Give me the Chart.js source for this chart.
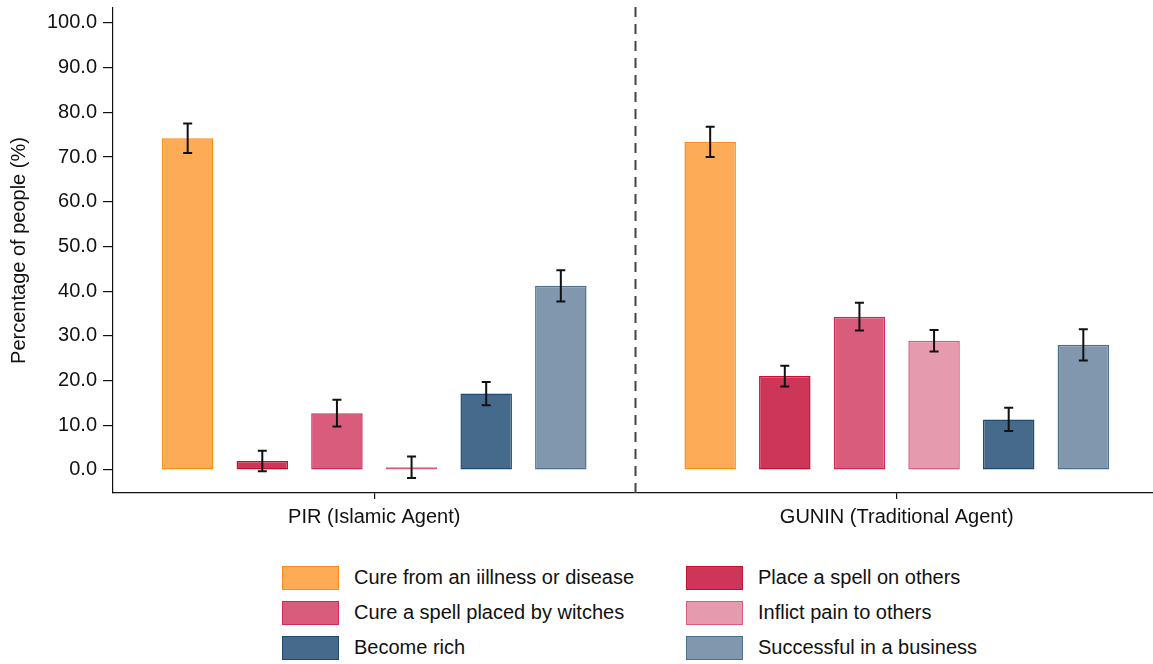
<!DOCTYPE html>
<html>
<head>
<meta charset="utf-8">
<script src="https://cdn.jsdelivr.net/npm/chart.js@4"></script>
<style>
    body { margin: 0; background: #fff; overflow: hidden; font-family: "Liberation Sans", Arial, sans-serif; }
    #wrap { position: relative; width: 1153px; height: 664px; overflow: hidden; }
    #chart { position: absolute; left: 0; top: 0; }
    #legend { position: absolute; left: 282px; top: 565px; display: grid; grid-template-columns: 404px 320px; row-gap: 10px; }
    .item { display: flex; align-items: center; height: 25px; font-size: 20px; color: #111; white-space: nowrap; }
    .box { width: 55px; height: 22px; border: 1.5px solid; margin-right: 15px; flex: none; }
</style>
</head>
<body>
<div id="wrap">
    <canvas id="chart" width="1158" height="540"></canvas>
    <div id="legend"></div>
</div>
<script>
// Agent groups on the x axis
const categories = ['PIR (Islamic Agent)', 'GUNIN (Traditional Agent)'];

// What people believe each agent can do
const outcomes = [
    'Cure from an iillness or disease',
    'Place a spell on others',
    'Cure a spell placed by witches',
    'Inflict pain to others',
    'Become rich',
    'Successful in a business'
];

// Percentages and error margins, one entry per outcome
const pirValues = [74.2, 2.0, 12.7, 0.6, 17.1, 41.2];
const pirErrors = [3.3, 2.3, 3.0, 2.4, 2.6, 3.5];
const guninValues = [73.4, 21.0, 34.3, 28.9, 11.3, 28.0];
const guninErrors = [3.4, 2.3, 3.1, 2.4, 2.6, 3.5];

const yTicks = [0, 10, 20, 30, 40, 50, 60, 70, 80, 90, 100];

const fills = ['#FEAB58', '#CD3659', '#D95C7D', '#E69AAE', '#466A8B', '#8197AE'];
const borders = ['#FF8C17', '#C8102E', '#D12A55', '#DC5A7C', '#1F4A72', '#4C7090'];

const errors = [pirErrors, guninErrors];
const fontFamily = '"Liberation Sans", Arial, sans-serif';

const datasets = outcomes.map((label, i) => ({
    label: label,
    data: [pirValues[i], guninValues[i]],
    backgroundColor: fills[i],
    borderColor: borders[i],
    borderWidth: 1.5,
    borderSkipped: false,
    categoryPercentage: 0.857,
    barPercentage: 0.69
}));

// Error bars on top of each bar
const errorBars = {
    id: 'errorBars',
    afterDatasetsDraw(chart) {
        const ctx = chart.ctx;
        const y = chart.scales.y;
        ctx.save();
        ctx.strokeStyle = '#111';
        ctx.lineWidth = 2;
        chart.data.datasets.forEach((ds, i) => {
            const meta = chart.getDatasetMeta(i);
            meta.data.forEach((bar, j) => {
                const v = ds.data[j];
                const e = errors[j][i];
                const top = y.getPixelForValue(v + e);
                const bottom = y.getPixelForValue(v - e);
                ctx.beginPath();
                ctx.moveTo(bar.x, top);
                ctx.lineTo(bar.x, bottom);
                ctx.moveTo(bar.x - 4.5, top);
                ctx.lineTo(bar.x + 4.5, top);
                ctx.moveTo(bar.x - 4.5, bottom);
                ctx.lineTo(bar.x + 4.5, bottom);
                ctx.stroke();
            });
        });
        ctx.restore();
    }
};

// Dashed divider between the two agents, plus the y axis title
const divider = {
    id: 'divider',
    afterDraw(chart) {
        const ctx = chart.ctx;
        const x = chart.scales.x;
        const area = chart.chartArea;
        const mid = (x.getPixelForValue(0) + x.getPixelForValue(1)) / 2;
        ctx.save();
        ctx.strokeStyle = '#444';
        ctx.lineWidth = 2;
        ctx.setLineDash([10, 7]);
        ctx.beginPath();
        ctx.moveTo(mid, area.top - 1);
        ctx.lineTo(mid, area.bottom);
        ctx.stroke();
        ctx.setLineDash([]);
        ctx.translate(19, (area.top + area.bottom) / 2);
        ctx.rotate(-Math.PI / 2);
        ctx.fillStyle = '#111';
        ctx.font = '20px ' + fontFamily;
        ctx.textAlign = 'center';
        ctx.textBaseline = 'middle';
        ctx.fillText('Percentage of people (%)', 0, 0);
        ctx.restore();
    }
};

new Chart(document.getElementById('chart'), {
    type: 'bar',
    data: { labels: categories, datasets: datasets },
    options: {
        responsive: false,
        animation: false,
        devicePixelRatio: 1,
        layout: { padding: { top: 8, left: 0, right: 0, bottom: 0 } },
        plugins: {
            legend: { display: false },
            tooltip: { enabled: false }
        },
        scales: {
            x: {
                grid: { drawOnChartArea: false, offset: false, tickLength: 6, color: '#111', lineWidth: 1.2 },
                border: { color: '#111', width: 1.2 },
                ticks: { color: '#111', padding: 6, font: { family: fontFamily, size: 20 } },
                afterFit(scale) {
                    scale.height = 47;
                    scale.paddingLeft = 0;
                    scale.paddingRight = 0;
                }
            },
            y: {
                min: -5.15,
                max: 103.35,
                afterBuildTicks(scale) { scale.ticks = yTicks.map(v => ({ value: v })); },
                grid: { drawOnChartArea: false, tickLength: 10, color: '#111', lineWidth: 1.2 },
                border: { color: '#111', width: 1.2 },
                ticks: {
                    color: '#111',
                    padding: 6,
                    font: { family: fontFamily, size: 20 },
                    callback: v => v.toFixed(1)
                },
                afterFit(scale) {
                    scale.width = 113;
                    // tick labels sit well inside the axis, no overhang room needed
                    scale.paddingTop = 0;
                    scale.paddingBottom = 0;
                }
            }
        }
    },
    plugins: [errorBars, divider]
});

// Legend in two columns, built from the same labels and colours
const legend = document.getElementById('legend');
outcomes.forEach((label, i) => {
    const item = document.createElement('div');
    item.className = 'item';
    item.innerHTML = `<span class="box" style="background:${fills[i]};border-color:${borders[i]}"></span>${label}`;
    legend.appendChild(item);
});
</script>
</body>
</html>
